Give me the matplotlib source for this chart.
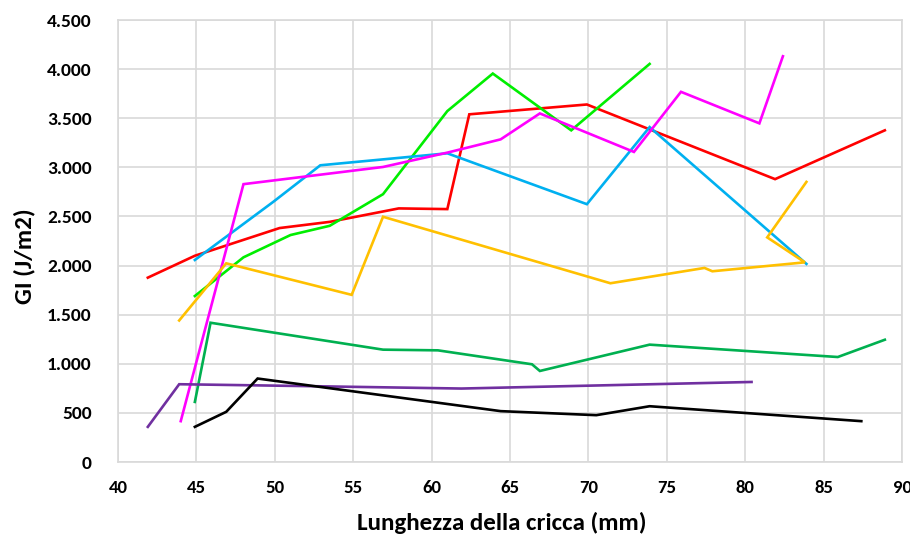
import matplotlib.pyplot as plt
from matplotlib.ticker import FuncFormatter

# curve per specimen: crack length (mm) vs GI (J/m2)
red_x = [41.9, 44.9, 50.3, 53.5, 57.9, 61.0, 62.4, 69.9, 81.9, 88.9]
red_y = [1877, 2100, 2382, 2445, 2582, 2575, 3540, 3640, 2880, 3377]

green_x = [44.9, 48.0, 51.0, 53.5, 56.9, 61.0, 63.9, 68.9, 73.9]
green_y = [1690, 2084, 2311, 2405, 2727, 3573, 3955, 3377, 4053]

cyan_x = [44.9, 49.9, 52.9, 61.0, 69.9, 73.9, 83.9]
cyan_y = [2057, 2649, 3021, 3143, 2625, 3410, 2017]

magenta_x = [44.0, 48.0, 56.9, 61.0, 64.4, 66.9, 72.9, 75.9, 80.9, 82.4]
magenta_y = [416, 2829, 3004, 3150, 3285, 3549, 3157, 3769, 3448, 4131]

orange_x = [43.9, 46.9, 54.9, 56.9, 71.4, 77.4, 77.9, 83.8, 81.4, 83.9]
orange_y = [1441, 2023, 1702, 2497, 1820, 1976, 1942, 2033, 2287, 2852]

dkgreen_x = [44.9, 45.9, 56.9, 60.4, 66.4, 66.9, 73.9, 85.9, 88.9]
dkgreen_y = [612, 1418, 1144, 1137, 995, 927, 1195, 1069, 1245]

purple_x = [41.9, 43.9, 52.4, 61.9, 80.4]
purple_y = [358, 792, 772, 748, 815]

black_x = [44.9, 46.9, 48.9, 64.4, 70.5, 73.9, 87.4]
black_y = [358, 511, 850, 518, 477, 568, 416]

series = [
    (red_x, red_y, '#FF0000'),
    (green_x, green_y, '#00EE00'),
    (cyan_x, cyan_y, '#00B0F0'),
    (magenta_x, magenta_y, '#FF00FF'),
    (orange_x, orange_y, '#FFC000'),
    (dkgreen_x, dkgreen_y, '#00B050'),
    (purple_x, purple_y, '#7030A0'),
    (black_x, black_y, '#000000'),
]

plt.rcParams['font.family'] = ['Carlito', 'Barlow Semi Condensed', 'DejaVu Sans']

fig = plt.figure(figsize=(9.1, 5.34), dpi=100)
ax = fig.add_axes([0.1297, 0.1348, 0.8616, 0.8277])

for xs, ys, c in series:
    ax.plot(xs, ys, color=c, lw=1.9, solid_joinstyle='miter')

ax.set_xlim(40, 90)
ax.set_ylim(0, 4500)
ax.set_xticks(range(40, 91, 5))
ax.set_yticks(range(0, 4501, 500))
ax.yaxis.set_major_formatter(FuncFormatter(lambda v, p: f'{int(v):,}'.replace(',', '.')))
ax.grid(True, color='#D9D9D9', lw=1.2)
ax.set_axisbelow(True)
for s in ax.spines.values():
    s.set_color('#D9D9D9')
    s.set_linewidth(1.2)
ax.tick_params(axis='x', length=0, labelsize=13.5, pad=13)
ax.tick_params(axis='y', length=0, labelsize=14, pad=19)
for lab in ax.get_xticklabels() + ax.get_yticklabels():
    lab.set_fontweight('bold')

ax.set_xlabel('Lunghezza della cricca (mm)', fontsize=18, fontweight='bold', va='center')
ax.xaxis.set_label_coords(0.49, -0.138)
ax.set_ylabel('GI (J/m2)', fontsize=18, fontweight='bold', va='center')
ax.yaxis.set_label_coords(-0.119, 0.466)

fig.savefig('out.png', dpi=100)
